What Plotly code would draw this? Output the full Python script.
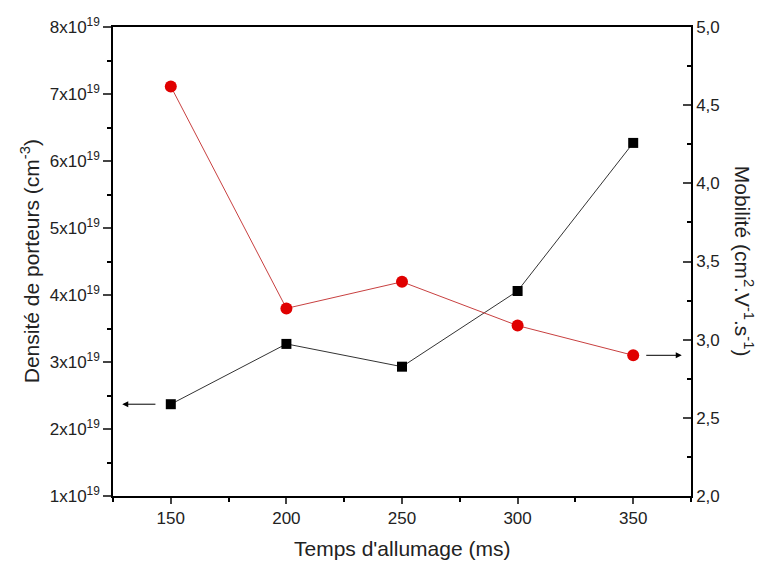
import plotly.graph_objects as go

temps = [150, 200, 250, 300, 350]
densite = [2.37e19, 3.27e19, 2.93e19, 4.06e19, 6.27e19]
mobilite = [4.62, 3.20, 3.37, 3.09, 2.90]

left_vals = [1e19, 2e19, 3e19, 4e19, 5e19, 6e19, 7e19, 8e19]
left_text = [f"{i}x10<sup>19</sup>" for i in range(1, 9)]
right_vals = [2.0, 2.5, 3.0, 3.5, 4.0, 4.5, 5.0]
right_text = ["2,0", "2,5", "3,0", "3,5", "4,0", "4,5", "5,0"]
x_vals = [150, 200, 250, 300, 350]

font = "Liberation Sans, Arial, sans-serif"

fig = go.Figure()
fig.add_trace(go.Scatter(x=temps, y=densite, mode="lines+markers",
                         line=dict(color="#333333", width=1),
                         marker=dict(symbol="square", size=10, color="black"),
                         yaxis="y", showlegend=False))
fig.add_trace(go.Scatter(x=temps, y=mobilite, mode="lines+markers",
                         line=dict(color="#c84040", width=1),
                         marker=dict(symbol="circle", size=12, color="#e00000"),
                         yaxis="y2", showlegend=False))

fig.update_layout(
    width=755, height=555,
    margin=dict(l=105, r=72, t=19, b=67, autoexpand=False),
    paper_bgcolor="white", plot_bgcolor="white",
    font=dict(family=font, size=17, color="#222"),
    xaxis=dict(range=[125, 375], tickvals=x_vals, ticks="outside", ticklen=6,
               tickwidth=1.5, showline=True, linecolor="black", linewidth=1.5,
               mirror=True, showgrid=False, zeroline=False, automargin=False,
               minor=dict(ticks="outside", ticklen=4, tickmode="linear",
                          tick0=125, dtick=25, tickcolor="black", tickwidth=1.5),
               tickfont=dict(size=17, family=font)),
    yaxis=dict(range=[1e19, 8e19], tickmode="array", tickvals=left_vals,
               ticktext=left_text, ticks="outside", ticklen=8, tickwidth=1.5,
               showline=True, linecolor="black", linewidth=1.5, showgrid=False,
               zeroline=False, automargin=False,
               minor=dict(ticks="outside", ticklen=4, tickmode="linear",
                          tick0=1e19, dtick=5e18, tickcolor="black", tickwidth=1.5),
               tickfont=dict(size=17, family=font)),
    yaxis2=dict(range=[2.0, 5.0], overlaying="y", side="right", tickmode="array",
                tickvals=right_vals, ticktext=right_text, ticks="inside",
                ticklen=8, tickwidth=1.5, showline=True, linecolor="black",
                linewidth=1.5, showgrid=False, zeroline=False, automargin=False,
                minor=dict(ticks="inside", ticklen=4, tickmode="linear",
                           tick0=2.0, dtick=0.25, tickcolor="black", tickwidth=1.5),
                tickfont=dict(size=17, family=font)),
)

fig.add_annotation(x=0.5, y=-0.111, xref="paper", yref="paper",
                   text="Temps d'allumage (ms)", showarrow=False,
                   font=dict(size=21, family=font), xanchor="center", yanchor="middle")
fig.add_annotation(x=-0.144, y=0.5, xref="paper", yref="paper",
                   text="Densité de porteurs (cm<sup>-3</sup>)", showarrow=False,
                   textangle=-90, font=dict(size=21, family=font),
                   xanchor="center", yanchor="middle")
fig.add_annotation(x=1.093, y=0.5, xref="paper", yref="paper",
                   text="Mobilité (cm<sup>2</sup>.V<sup>-1</sup>.s<sup>-1</sup>)",
                   showarrow=False, textangle=90, font=dict(size=21, family=font),
                   xanchor="center", yanchor="middle")

# arrows indicating axes
fig.add_annotation(x=129, y=densite[0], xref="x", yref="y",
                   ax=144, ay=densite[0], axref="x", ayref="y",
                   text="", showarrow=True, arrowhead=2, arrowsize=1.2,
                   arrowwidth=1, arrowcolor="black")
fig.add_annotation(x=371, y=mobilite[-1], xref="x", yref="y2",
                   ax=355, ay=mobilite[-1], axref="x", ayref="y2",
                   text="", showarrow=True, arrowhead=2, arrowsize=1.2,
                   arrowwidth=1, arrowcolor="black")

fig.write_html("out.html")
